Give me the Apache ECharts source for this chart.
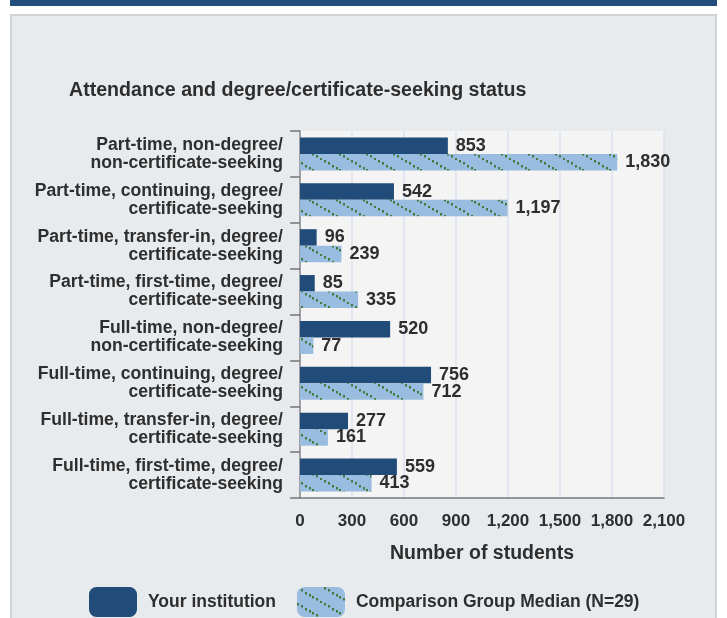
<!DOCTYPE html>
<html>
<head>
<meta charset="utf-8">
<script src="https://cdn.jsdelivr.net/npm/echarts@6/dist/echarts.min.js"></script>
<style>
  html, body { margin: 0; padding: 0; background: #fff; }
  #chart { width: 727px; height: 618px; }
</style>
</head>
<body>
<div id="chart"></div>
<script>
// categories, top to bottom
const categories = [
  'Part-time, non-degree/\nnon-certificate-seeking',
  'Part-time, continuing, degree/\ncertificate-seeking',
  'Part-time, transfer-in, degree/\ncertificate-seeking',
  'Part-time, first-time, degree/\ncertificate-seeking',
  'Full-time, non-degree/\nnon-certificate-seeking',
  'Full-time, continuing, degree/\ncertificate-seeking',
  'Full-time, transfer-in, degree/\ncertificate-seeking',
  'Full-time, first-time, degree/\ncertificate-seeking'
]
const yourInstitution = [853, 542, 96, 85, 520, 756, 277, 559]
const groupMedian = [1830, 1197, 239, 335, 77, 712, 161, 413]
const xTicks = [0, 300, 600, 900, 1200, 1500, 1800, 2100]

const FONT = '"Liberation Sans", Arial, sans-serif'
const TEXT = '#2e2e2e'

// dotted diagonal hatch for the comparison group bars
function makeHatch() {
  const c = document.createElement('canvas')
  c.width = 27
  c.height = 16
  const ctx = c.getContext('2d')
  ctx.fillStyle = '#9abce0'
  ctx.fillRect(0, 0, c.width, c.height)
  ctx.fillStyle = '#3f7d3d'
  for (let i = 0; i < 7; i++) {
    const t = i / 7
    ctx.fillRect(Math.round(t * 27), Math.round(t * 16), 2, 2.5)
  }
  return c
}
const hatch = { image: makeHatch(), repeat: 'repeat' }

const fmt = v => Number(v).toLocaleString('en-US')

const chart = echarts.init(document.getElementById('chart'))

chart.setOption({
  animation: false,
  backgroundColor: '#fff',
  textStyle: { fontFamily: FONT },
  graphic: [
    { type: 'rect', z: -10, shape: { x: 10, y: 0, width: 707, height: 6 }, style: { fill: '#234e7b' } },
    { type: 'rect', z: -10, shape: { x: 11, y: 15, width: 705, height: 640 }, style: { fill: '#e8ebee', stroke: '#cfd2d6', lineWidth: 2 } },
    {
      type: 'text', left: 69, top: 81,
      style: { text: 'Attendance and degree/certificate-seeking status', font: 'bold 19.6px ' + FONT, fill: TEXT }
    }
  ],
  grid: {
    left: 300, right: 63, top: 131, bottom: 120,
    show: true, backgroundColor: '#f4f4f5', borderWidth: 0
  },
  legend: {
    left: 84, top: 582,
    itemWidth: 48, itemHeight: 30, itemGap: 21,
    icon: 'roundRect',
    textStyle: { fontFamily: FONT, fontSize: 17.5, fontWeight: 'bold', color: TEXT, padding: [0, 0, 6, 6] },
    data: ['Your institution', 'Comparison Group Median (N=29)']
  },
  xAxis: {
    type: 'value',
    min: 0, max: 2100, interval: 300,
    name: 'Number of students',
    nameLocation: 'middle', nameGap: 46,
    nameTextStyle: { fontFamily: FONT, fontSize: 19.5, fontWeight: 'bold', color: TEXT },
    axisLine: { show: true, lineStyle: { color: '#777', width: 1.5 } },
    axisTick: { show: false },
    axisLabel: {
      margin: 15, fontFamily: FONT, fontSize: 17, fontWeight: 'bold', color: TEXT,
      customValues: xTicks,
      formatter: v => fmt(v)
    },
    splitLine: { show: true, lineStyle: { color: '#dbe2ef', width: 1.5 } }
  },
  yAxis: {
    type: 'category',
    inverse: true,
    data: categories,
    axisLine: { show: true, lineStyle: { color: '#888', width: 1.5 } },
    axisTick: { show: true, length: 10, lineStyle: { color: '#777', width: 1.5 } },
    axisLabel: {
      margin: 17, fontFamily: FONT, fontSize: 17.6, fontWeight: 'bold', color: TEXT,
      lineHeight: 18, align: 'right'
    },
    splitLine: { show: false }
  },
  series: [
    {
      name: 'Your institution',
      type: 'bar',
      data: yourInstitution,
      barWidth: 16.5,
      barGap: '0%',
      itemStyle: { color: '#214b79' },
      label: {
        show: true, position: 'right', distance: 8,
        fontFamily: FONT, fontSize: 18, fontWeight: 'bold', color: TEXT,
        formatter: p => fmt(p.value)
      }
    },
    {
      name: 'Comparison Group Median (N=29)',
      type: 'bar',
      data: groupMedian,
      barWidth: 16.5,
      barGap: '0%',
      itemStyle: { color: hatch },
      label: {
        show: true, position: 'right', distance: 8,
        fontFamily: FONT, fontSize: 18, fontWeight: 'bold', color: TEXT,
        formatter: p => fmt(p.value)
      }
    }
  ]
})
</script>
</body>
</html>
